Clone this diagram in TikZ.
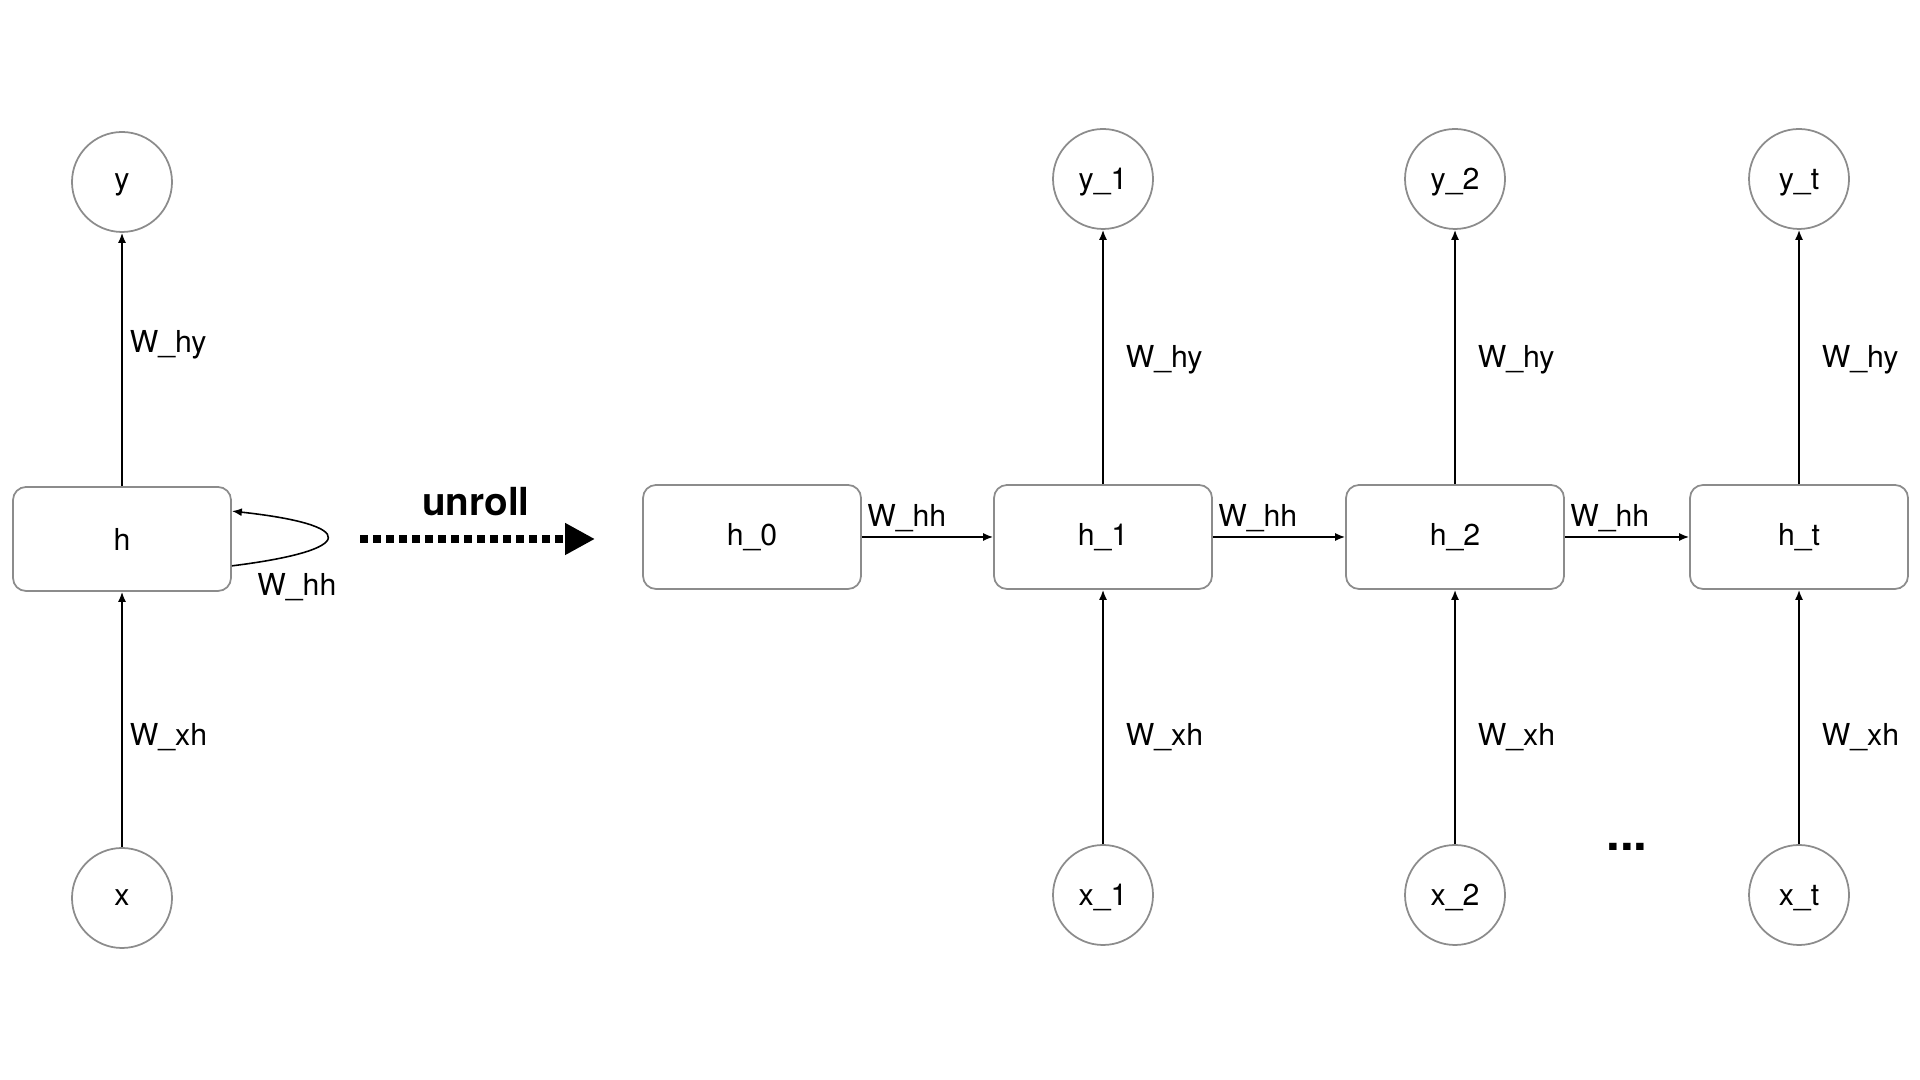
\documentclass[tikz,border=0pt]{standalone}
\usepackage{fontspec}
\setmainfont{TeX Gyre Heros}
\usetikzlibrary{arrows.meta, positioning}

\begin{document}
\begin{tikzpicture}[font=\fontsize{8.6}{10}\selectfont,
  cell/.style={draw=gray!90, line width=0.5pt, rounded corners=0.13cm,
               minimum width=2.18cm, minimum height=1.04cm},
  unit/.style={draw=gray!90, line width=0.5pt, circle, minimum size=1cm,
               text depth=0pt},
  link/.style={-{Latex[length=1mm, width=0.8mm]}, line width=0.45pt},
  wlabel/.style={right, inner sep=2pt, xshift=0.15cm}]

\useasboundingbox (0,0) rectangle (19.2,10.8);

% Rows of the cells
\def\hrow{5.43}
\def\yrow{9.01}
\def\xrow{1.85}

% --- Left Panel: folded network ---
\node[cell] (h) at (1.22,5.41) {h};
\node[unit] (y) at (1.22,8.98) {y};
\node[unit] (x) at (1.22,1.82) {x};

\draw[link] (h) -- (y) node[pos=0.56, right, inner sep=2pt] {W\_hy};
\draw[link] (x) -- (h) node[pos=0.43, right, inner sep=2pt] {W\_xh};

% Self loop
\draw[link] ([yshift=0.26cm]h.south east)
  .. controls (3.59,5.3) and (3.59,5.55) .. ([yshift=-0.25cm]h.north east)
  node[pos=0, below right, xshift=0.13cm, yshift=0.05cm] {W\_hh};

% --- Middle: unroll arrow ---
\coordinate (ustart) at (3.6,5.41);
\coordinate (uend) at (5.95,5.41);
\draw[line width=0.08cm, dash pattern=on 0.08cm off 0.05cm,
      -{Triangle[length=0.3cm, width=0.3cm]}] (ustart) -- (uend);
\node[font=\fontsize{11}{13}\selectfont\bfseries] (unroll) at (4.76,5.78) {unroll};

% --- Right Panel: unrolled network ---
\node[cell] (h0) at (7.52,\hrow) {h\_0};

\foreach \i/\xx in {1/11.03, 2/14.55, t/17.99} {
  \node[cell] (h\i) at (\xx,\hrow) {h\_\i};
  \node[unit] (y\i) at (\xx,\yrow) {y\_\i};
  \node[unit] (x\i) at (\xx,\xrow) {x\_\i};
  \draw[link] (h\i) -- (y\i) node[pos=0.49, wlabel] {W\_hy};
  \draw[link] (x\i) -- (h\i) node[pos=0.42, wlabel] {W\_xh};
}

% Recurrent links
\foreach \a/\b in {h0/h1, h1/h2, h2/ht}
  \draw[link] (\a) -- (\b) node[pos=0, above right, inner sep=1.3pt] {W\_hh};

% Skipped steps
\node[font=\fontsize{14}{16}\selectfont\bfseries] (skip) at (16.27,2.33) {...};

\end{tikzpicture}
\end{document}
